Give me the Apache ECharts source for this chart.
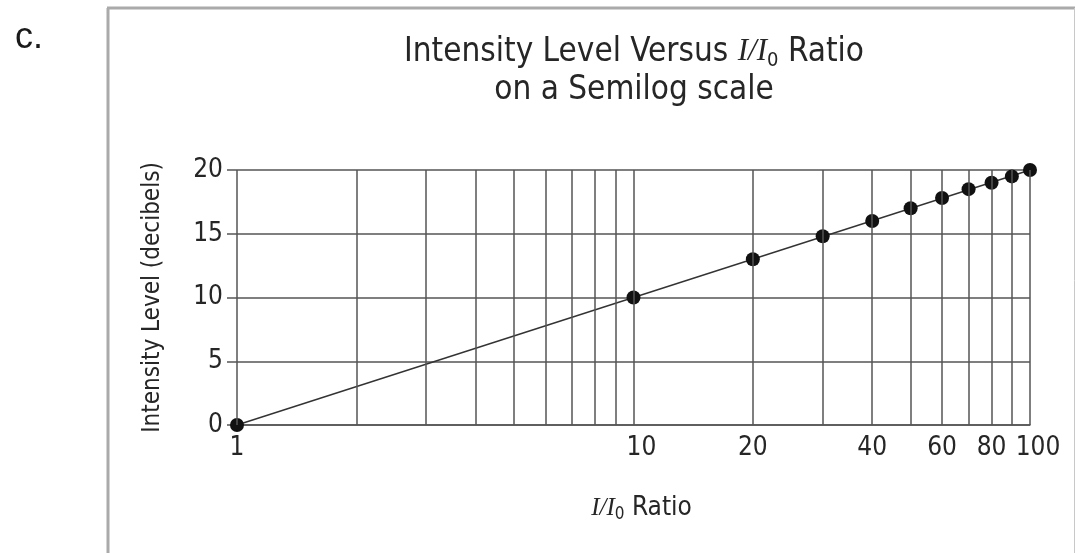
<!DOCTYPE html>
<html>
<head>
<meta charset="utf-8">
<script src="https://cdn.jsdelivr.net/npm/echarts@6/dist/echarts.min.js"></script>
<style>
  html, body { margin: 0; padding: 0; background: #fff; }
  #chart { width: 1075px; height: 553px; }
</style>
</head>
<body>
<div id="chart"></div>
<script>
// I/I0 ratios and their measured intensity levels (dB)
const ratios = [1, 10, 20, 30, 40, 50, 60, 70, 80, 90, 100];
const levels = [0, 10, 13, 14.8, 16, 17, 17.8, 18.5, 19, 19.5, 20];

// semilog grid: vertical rules at every 1..10 and 10..100 step
const gridRatios = [1, 2, 3, 4, 5, 6, 7, 8, 9, 10, 20, 30, 40, 50, 60, 70, 80, 90, 100];
// ratio values that carry a label under the axis
const xTickLabels = [1, 10, 20, 40, 60, 80, 100];
// intensity level ticks
const yTicks = [0, 5, 10, 15, 20];

const narrow = "'Liberation Sans Narrow', 'DejaVu Sans Condensed', 'Roboto Condensed', 'Liberation Sans', Arial, sans-serif";
const serif = "'Liberation Serif', 'DejaVu Serif', serif";
const ruleColor = '#555555';
const textColor = '#262626';

const points = ratios.map((r, i) => [r, levels[i]]);
const last = points.length - 1;

const chart = echarts.init(document.getElementById('chart'), null, { renderer: 'canvas' });

chart.setOption({
  animation: false,
  backgroundColor: '#ffffff',
  title: {
    text: '{a|Intensity Level Versus }{i|I/I}{s|0}{a| Ratio}\n{a|on a Semilog scale}',
    left: 629,
    top: 28,
    textAlign: 'center',
    textStyle: {
      fontWeight: 'normal',
      rich: {
        a: { fontFamily: narrow, fontWeight: 'normal', fontSize: 33, color: textColor, lineHeight: 38 },
        i: { fontFamily: serif, fontWeight: 'normal', fontStyle: 'italic', fontSize: 31, color: textColor, lineHeight: 38 },
        s: { fontFamily: narrow, fontWeight: 'normal', fontSize: 20, color: textColor, lineHeight: 38, verticalAlign: 'bottom' }
      }
    }
  },
  graphic: [
    { type: 'text', left: 15, top: 20, style: { text: 'c.', font: '36px "Liberation Sans", Arial, sans-serif', fill: '#1a1a1a' } },
    { type: 'line', shape: { x1: 108, y1: 8, x2: 108, y2: 553 }, style: { stroke: '#aaaaaa', lineWidth: 3 } },
    { type: 'line', shape: { x1: 107, y1: 8, x2: 1075, y2: 8 }, style: { stroke: '#aaaaaa', lineWidth: 3 } },
    { type: 'line', shape: { x1: 1074.5, y1: 8, x2: 1074.5, y2: 553 }, style: { stroke: '#c8c8c8', lineWidth: 1 } }
  ],
  grid: { left: 237, right: 45, top: 170, bottom: 128, containLabel: false },
  xAxis: {
    type: 'log',
    logBase: 10,
    min: 1,
    max: 100,
    name: '{i|I/I}{s|0}{a| Ratio}',
    nameLocation: 'middle',
    nameGap: 68,
    nameTextStyle: {
      padding: [0, 0, 0, 16],
      rich: {
        a: { fontFamily: narrow, fontSize: 26, color: textColor, lineHeight: 30 },
        i: { fontFamily: serif, fontStyle: 'italic', fontSize: 25, color: textColor, lineHeight: 30 },
        s: { fontFamily: narrow, fontSize: 17, color: textColor, lineHeight: 30, verticalAlign: 'bottom' }
      }
    },
    axisLine: { show: true, lineStyle: { color: ruleColor, width: 1.5 } },
    axisTick: { show: false },
    splitLine: { show: false },
    minorTick: { show: false },
    axisLabel: {
      customValues: xTickLabels,
      // labels that start with a "1" sit a little right of their rule
      formatter: v => (v >= 10 && String(v)[0] === '1') ? '{one|' + v + '}' : String(v),
      showMinLabel: true,
      showMaxLabel: true,
      hideOverlap: false,
      fontFamily: narrow,
      fontSize: 26,
      color: textColor,
      margin: 10,
      rich: {
        one: { fontFamily: narrow, fontSize: 26, color: textColor, padding: [0, 0, 0, 16] }
      }
    }
  },
  yAxis: {
    type: 'value',
    min: yTicks[0],
    max: yTicks[yTicks.length - 1],
    interval: 5,
    name: 'Intensity Level (decibels)',
    nameLocation: 'middle',
    nameGap: 72,
    nameRotate: 90,
    nameTextStyle: { fontFamily: narrow, fontSize: 24, color: textColor },
    axisLine: { show: false },
    axisTick: { show: true, length: 10, lineStyle: { color: ruleColor, width: 1.5 } },
    splitLine: { show: true, lineStyle: { color: ruleColor, width: 1.5 } },
    axisLabel: { fontFamily: narrow, fontSize: 26, color: textColor, margin: 14 }
  },
  series: [
    {
      name: 'fit',
      type: 'line',
      data: [points[0], points[last]],
      showSymbol: false,
      silent: true,
      lineStyle: { color: '#333333', width: 1.4 },
      z: 3,
      markLine: {
        silent: true,
        symbol: ['none', 'none'],
        label: { show: false },
        lineStyle: { type: 'solid', color: ruleColor, width: 1.5 },
        emphasis: { disabled: true },
        data: gridRatios.map(v => ({ xAxis: v }))
      }
    },
    {
      name: 'measured',
      type: 'scatter',
      data: points,
      symbol: 'circle',
      symbolSize: 14,
      itemStyle: { color: '#111111', opacity: 1 },
      silent: true,
      z: 4
    }
  ]
});
</script>
</body>
</html>
